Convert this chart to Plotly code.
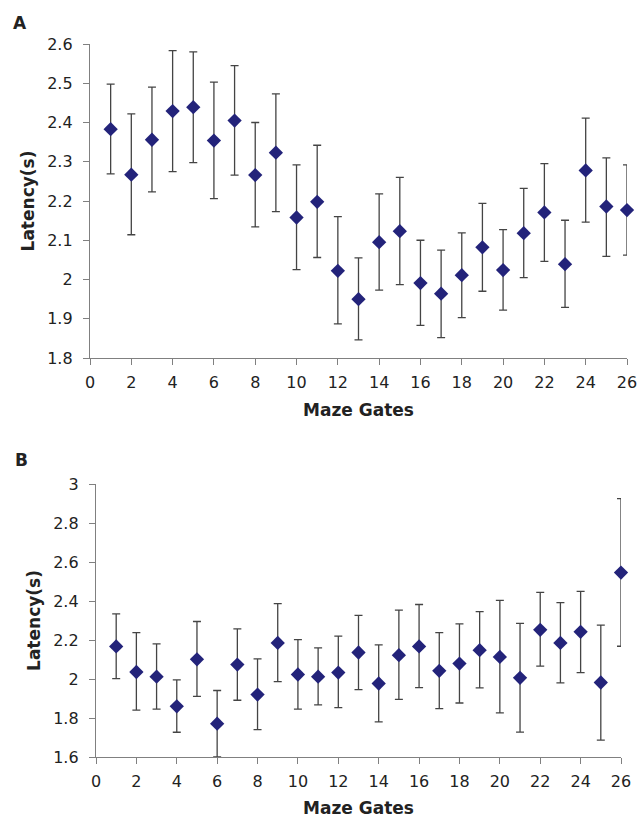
import plotly.graph_objects as go

gates = list(range(1, 27))

# Panel A
a_mean = [2.383, 2.267, 2.356, 2.429, 2.439, 2.354, 2.405, 2.266, 2.323, 2.158, 2.198,
          2.022, 1.950, 2.095, 2.123, 1.991, 1.964, 2.011, 2.082, 2.024, 2.118, 2.171,
          2.039, 2.278, 2.186, 2.177]
a_upper = [2.498, 2.422, 2.490, 2.583, 2.580, 2.503, 2.545, 2.400, 2.473, 2.292, 2.342,
           2.160, 2.055, 2.218, 2.260, 2.100, 2.075, 2.119, 2.194, 2.127, 2.232, 2.295,
           2.151, 2.411, 2.310, 2.292]
a_lower = [2.269, 2.114, 2.223, 2.275, 2.298, 2.206, 2.266, 2.134, 2.173, 2.025, 2.056,
           1.887, 1.846, 1.973, 1.987, 1.883, 1.852, 1.903, 1.970, 1.922, 2.005, 2.046,
           1.929, 2.146, 2.059, 2.062]

# Panel B
b_mean = [2.167, 2.036, 2.012, 1.860, 2.101, 1.771, 2.074, 1.920, 2.185, 2.023, 2.012,
          2.033, 2.136, 1.977, 2.122, 2.167, 2.042, 2.079, 2.148, 2.113, 2.006, 2.252,
          2.185, 2.242, 1.982, 2.546]
b_upper = [2.334, 2.238, 2.180, 1.995, 2.295, 1.941, 2.257, 2.103, 2.387, 2.202, 2.160,
           2.220, 2.326, 2.175, 2.353, 2.382, 2.238, 2.283, 2.346, 2.403, 2.285, 2.444,
           2.392, 2.449, 2.276, 2.925]
b_lower = [2.002, 1.840, 1.846, 1.727, 1.911, 1.600, 1.891, 1.740, 1.987, 1.846, 1.867,
           1.853, 1.946, 1.780, 1.896, 1.956, 1.848, 1.877, 1.954, 1.826, 1.728, 2.066,
           1.980, 2.033, 1.687, 2.168]

x_ticks = list(range(0, 27, 2))
a_yticks = [1.8, 1.9, 2.0, 2.1, 2.2, 2.3, 2.4, 2.5, 2.6]
a_ytext = ["1.8", "1.9", "2", "2.1", "2.2", "2.3", "2.4", "2.5", "2.6"]
b_yticks = [1.6, 1.8, 2.0, 2.2, 2.4, 2.6, 2.8, 3.0]
b_ytext = ["1.6", "1.8", "2", "2.2", "2.4", "2.6", "2.8", "3"]

W, H = 640, 818
marker_color = "#23237A"
err_color = "#444444"
font_family = "DejaVu Sans, Verdana, sans-serif"
text_color = "#222222"


def err(mean, up, lo):
    return dict(type="data", symmetric=False,
                array=[u - m for u, m in zip(up, mean)],
                arrayminus=[m - l for m, l in zip(mean, lo)],
                color=err_color, thickness=1.3, width=4)


fig = go.Figure()
fig.add_trace(go.Scatter(x=gates, y=a_mean, mode="markers",
                         marker=dict(symbol="diamond", size=11, color=marker_color),
                         error_y=err(a_mean, a_upper, a_lower),
                         cliponaxis=False, xaxis="x", yaxis="y", showlegend=False))
fig.add_trace(go.Scatter(x=gates, y=b_mean, mode="markers",
                         marker=dict(symbol="diamond", size=11, color=marker_color),
                         error_y=err(b_mean, b_upper, b_lower),
                         cliponaxis=False, xaxis="x2", yaxis="y2", showlegend=False))

axis_common = dict(showgrid=False, zeroline=False, showline=True, linecolor="#808080",
                   linewidth=1.3, ticks="outside", ticklen=6, tickcolor="#808080",
                   tickwidth=1.3, automargin=False,
                   tickfont=dict(size=16, color=text_color, family=font_family))
xaxis_extra = dict(ticklabelstandoff=4)
yaxis_extra = dict(ticklabelstandoff=7)
title_font = dict(size=17, color=text_color, family=font_family, weight="bold")
panel_font = dict(size=17, color=text_color, family=font_family, weight="bold")

fig.update_layout(
    width=W, height=H,
    margin=dict(l=0, r=0, t=0, b=0, autoexpand=False),
    paper_bgcolor="white", plot_bgcolor="white",
    xaxis=dict(domain=[90 / W, 627 / W], range=[0, 26], tickvals=x_ticks, anchor="y",
               title=dict(text="Maze Gates", font=title_font, standoff=12),
               **axis_common, **xaxis_extra),
    yaxis=dict(domain=[1 - 358 / H, 1 - 44 / H], range=[1.8, 2.6], tickvals=a_yticks,
               ticktext=a_ytext, anchor="x",
               title=dict(text="Latency(s)", font=title_font, standoff=8),
               **axis_common, **yaxis_extra),
    xaxis2=dict(domain=[96 / W, 621 / W], range=[0, 26], tickvals=x_ticks, anchor="y2",
                title=dict(text="Maze Gates", font=title_font, standoff=12),
                **axis_common, **xaxis_extra),
    yaxis2=dict(domain=[1 - 757 / H, 1 - 484 / H], range=[1.6, 3.0], tickvals=b_yticks,
                ticktext=b_ytext, anchor="x2",
                title=dict(text="Latency(s)", font=title_font, standoff=8),
                **axis_common, **yaxis_extra),
    annotations=[
        dict(text="A", x=11 / W, y=1 - 23.5 / H, xref="paper", yref="paper", showarrow=False,
             font=panel_font, xanchor="left", yanchor="middle"),
        dict(text="B", x=13 / W, y=1 - 459.5 / H, xref="paper", yref="paper", showarrow=False,
             font=panel_font, xanchor="left", yanchor="middle"),
    ],
)

fig.write_html("out.html", config={"displayModeBar": False},
               post_script="document.body.style.margin='0';")
